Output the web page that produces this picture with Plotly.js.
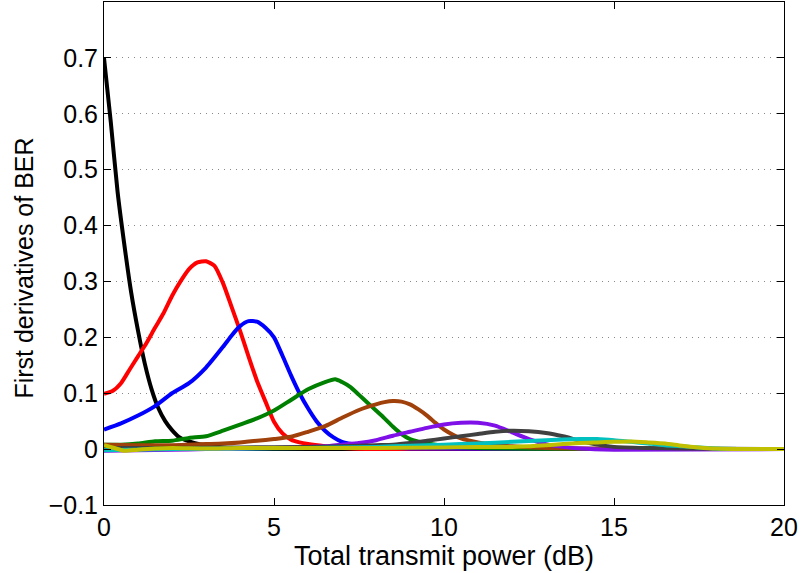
<!DOCTYPE html>
<html>
<head>
<meta charset="utf-8">
<script src="https://cdn.plot.ly/plotly-3.0.1.min.js"></script>
<style>html,body{margin:0;padding:0;background:#fff;}#chart{width:801px;height:573px;}</style>
</head>
<body>
<div id="chart"></div>
<script>
// Series data
const blackX = [0, 0.2, 0.4, 0.6, 0.8, 1.0, 1.2, 1.4, 1.6, 1.8, 2.0, 2.2, 2.4, 2.6, 2.8, 3.0, 3.5, 4, 5, 20];
const blackY = [0.70, 0.585, 0.46, 0.365, 0.28, 0.212, 0.153, 0.107, 0.073, 0.05, 0.034, 0.022, 0.016, 0.012, 0.009, 0.006, 0.003, 0.001, 0, 0];

const redX = [0, 0.25, 0.5, 0.75, 1, 1.25, 1.5, 1.75, 2, 2.25, 2.5, 2.75, 3, 3.25, 3.5, 3.75, 4, 4.25, 4.5, 4.75, 5, 5.25, 5.5, 5.75, 6, 6.5, 7, 8, 20];
const redY = [0.099, 0.104, 0.118, 0.142, 0.166, 0.19, 0.217, 0.243, 0.274, 0.300, 0.322, 0.334, 0.336, 0.328, 0.297, 0.255, 0.212, 0.166, 0.122, 0.085, 0.049, 0.028, 0.017, 0.012, 0.009, 0.005, 0.002, 0, 0];

const blueX = [0, 0.5, 1, 1.5, 2, 2.5, 3, 3.5, 3.75, 4, 4.25, 4.5, 4.75, 5, 5.25, 5.5, 5.75, 6, 6.25, 6.5, 6.75, 7, 7.5, 8, 9, 20];
const blueY = [0.035, 0.046, 0.06, 0.077, 0.1, 0.118, 0.146, 0.183, 0.203, 0.22, 0.229, 0.228, 0.217, 0.2, 0.167, 0.132, 0.1, 0.073, 0.05, 0.033, 0.021, 0.013, 0.007, 0.004, 0.001, 0];

const greenX = [0, 0.5, 1, 1.5, 2, 2.5, 3, 3.5, 4, 4.5, 5, 5.5, 6, 6.5, 6.8, 7, 7.25, 7.5, 7.75, 8, 8.25, 8.5, 8.75, 9, 9.5, 10, 11, 20];
const greenY = [0.008, 0.008, 0.010, 0.014, 0.015, 0.02, 0.023, 0.033, 0.044, 0.055, 0.069, 0.088, 0.107, 0.12, 0.125, 0.12, 0.111, 0.097, 0.083, 0.069, 0.055, 0.04, 0.027, 0.018, 0.01, 0.006, 0.002, 0];

const brownX = [0, 1, 2, 3, 3.5, 4, 4.5, 5, 5.5, 6, 6.5, 7, 7.5, 8, 8.25, 8.5, 8.75, 9, 9.25, 9.5, 9.75, 10, 10.5, 11, 11.5, 12, 13, 20];
const brownY = [0.008, 0.007, 0.007, 0.009, 0.01, 0.012, 0.015, 0.018, 0.022, 0.031, 0.041, 0.056, 0.07, 0.08, 0.084, 0.086, 0.085, 0.08, 0.071, 0.06, 0.047, 0.035, 0.019, 0.012, 0.008, 0.005, 0.002, 0];

const purpleX = [0, 1, 2, 3, 4, 5, 6, 6.5, 7, 7.5, 8, 8.5, 9, 9.5, 10, 10.5, 11, 11.5, 12, 12.5, 13, 13.5, 14, 15, 20];
const purpleY = [-0.003, -0.002, -0.001, 0, 0.001, 0.002, 0.004, 0.005, 0.008, 0.011, 0.016, 0.024, 0.031, 0.038, 0.044, 0.047, 0.047, 0.042, 0.03, 0.018, 0.009, 0.004, 0.001, -0.001, 0];

const greyX = [0, 2, 4, 6, 7, 8, 8.5, 9, 9.5, 10, 10.5, 11, 11.5, 12, 12.5, 13, 13.5, 14, 14.5, 15, 16, 17, 20];
const greyY = [0.002, 0.002, 0.003, 0.004, 0.005, 0.007, 0.008, 0.011, 0.015, 0.019, 0.023, 0.027, 0.031, 0.033, 0.032, 0.029, 0.023, 0.015, 0.008, 0.004, 0.002, 0.001, 0];

const cyanX = [0, 2, 4, 6, 8, 9, 10, 11, 12, 13, 14, 14.5, 15, 15.5, 16, 16.5, 17, 17.5, 18, 19, 20];
const cyanY = [-0.002, 0, 0.001, 0.002, 0.004, 0.006, 0.008, 0.01, 0.013, 0.016, 0.018, 0.018, 0.016, 0.013, 0.01, 0.007, 0.005, 0.003, 0.001, 0, 0];

const yellowX = [0, 0.3, 0.6, 1, 1.5, 2, 3, 4, 6, 8, 10, 11, 12, 12.5, 13, 13.5, 14, 14.5, 15, 15.5, 16, 16.5, 17, 17.5, 18, 19, 20];
const yellowY = [0.007, 0.002, -0.003, -0.001, 0.001, 0.002, 0.001, 0.002, 0.002, 0.002, 0.003, 0.004, 0.004, 0.005, 0.007, 0.009, 0.011, 0.012, 0.013, 0.0135, 0.012, 0.01, 0.006, 0.003, 0.001, 0, 0];

const yTickVals = [-0.1, 0, 0.1, 0.2, 0.3, 0.4, 0.5, 0.6, 0.7];
const yTickText = ['\u22120.1', '0', '0.1', '0.2', '0.3', '0.4', '0.5', '0.6', '0.7'];
const xTickVals = [0, 5, 10, 15, 20];
const xTickText = ['0', '5', '10', '15', '20'];
const xTitle = 'Total transmit power (dB)';
const yTitle = 'First derivatives of BER';

const series = [
  [blackX, blackY, '#000000'],
  [redX, redY, '#ff0000'],
  [blueX, blueY, '#0000ff'],
  [greenX, greenY, '#008000'],
  [brownX, brownY, '#a0400a'],
  [purpleX, purpleY, '#7f10e8'],
  [greyX, greyY, '#404040'],
  [cyanX, cyanY, '#00c0c0'],
  [yellowX, yellowY, '#c0c000']
];

const traces = series.map(s => ({
  x: s[0], y: s[1], type: 'scatter', mode: 'lines',
  line: {color: s[2], width: 4, shape: 'spline', smoothing: 0.6},
  hoverinfo: 'skip', showlegend: false
}));

const fontFam = '"Liberation Sans", Arial, Helvetica, sans-serif';
const layout = {
  width: 801, height: 573,
  margin: {l: 104, r: 17, t: 2, b: 68},
  paper_bgcolor: '#ffffff', plot_bgcolor: '#ffffff',
  font: {family: fontFam, size: 25, color: '#000'},
  showlegend: false,
  xaxis: {
    range: [0, 20], tickvals: xTickVals, ticktext: xTickText,
    showgrid: false, zeroline: false,
    showline: true, linecolor: '#000', linewidth: 1, mirror: 'ticks',
    ticks: 'inside', ticklen: 7, tickcolor: '#000',
    tickfont: {size: 25}, ticklabelstandoff: 0,
    title: {text: xTitle, font: {size: 27}, standoff: 0}
  },
  yaxis: {
    range: [-0.1, 0.8], tickvals: yTickVals, ticktext: yTickText,
    showgrid: true, gridcolor: '#8a8a8a', griddash: '1px,5px', gridwidth: 1,
    zeroline: false,
    showline: true, linecolor: '#000', linewidth: 1, mirror: 'ticks',
    ticks: 'inside', ticklen: 7, tickcolor: '#000',
    tickfont: {size: 25}
  },
  annotations: [{
    text: yTitle, textangle: -90, showarrow: false,
    xref: 'paper', yref: 'paper', x: -0.1176, y: 0.47,
    xanchor: 'center', yanchor: 'middle',
    font: {size: 25, family: fontFam, color: '#000'}
  }]
};

Plotly.newPlot('chart', traces, layout, {displayModeBar: false, staticPlot: true});
</script>
</body>
</html>
